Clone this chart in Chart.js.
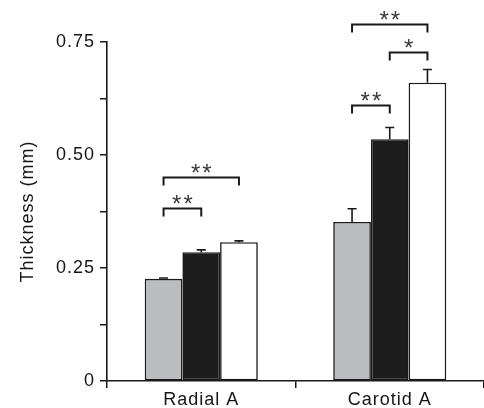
<!DOCTYPE html>
<html>
<head>
<meta charset="utf-8">
<script src="https://cdn.jsdelivr.net/npm/chart.js@4/dist/chart.umd.min.js"></script>
<style>
html,body{margin:0;padding:0;background:#fff;}
canvas{display:block;}
</style>
</head>
<body>
<canvas id="c" width="484" height="408"></canvas>
<script>
// ---- data ----
const categories = ['Radial A', 'Carotid A'];
const seriesNames = ['Group 1', 'Group 2', 'Group 3'];
const grayValues  = [0.226, 0.352];
const blackValues = [0.285, 0.535];
const whiteValues = [0.307, 0.660];
const grayErrors  = [0.002, 0.029];
const blackErrors = [0.005, 0.026];
const whiteErrors = [0.003, 0.029];
const yTickLabels = ['0', '0.25', '0.50', '0.75'];
// significance brackets: category index, from series, to series, bracket level (mm), label
const bracketCategory = [0, 0, 1, 1, 1];
const bracketFrom     = [0, 0, 0, 1, 0];
const bracketTo       = [1, 2, 1, 2, 2];
const bracketLevel    = [0.383, 0.451, 0.611, 0.728, 0.790];
const bracketLabel    = ['**', '**', '**', '*', '**'];

const values = [grayValues, blackValues, whiteValues];
const errors = [grayErrors, blackErrors, whiteErrors];
const fills = ['#bbbcbf', '#1c1c1c', '#ffffff'];

const FONT = '"Liberation Sans", Arial, Helvetica, sans-serif';
const TEXT = '#151515';

const spacingPlugin = {
  id: 'spacing',
  beforeDraw(chart) { chart.ctx.letterSpacing = '1px'; }
};

const annotPlugin = {
  id: 'annot',
  afterDraw(chart) {
    const ctx = chart.ctx;
    const y = chart.scales.y;
    ctx.save();
    ctx.strokeStyle = '#1a1a1a';
    ctx.lineWidth = 1.6;
    // error bars (upper half only)
    values.forEach((vals, di) => {
      const meta = chart.getDatasetMeta(di);
      vals.forEach((v, i) => {
        const bar = meta.data[i];
        const top = y.getPixelForValue(v + errors[di][i]);
        const base = y.getPixelForValue(v);
        ctx.beginPath();
        ctx.moveTo(bar.x, base);
        ctx.lineTo(bar.x, top);
        ctx.moveTo(bar.x - 4.5, top);
        ctx.lineTo(bar.x + 4.5, top);
        ctx.stroke();
      });
    });
    // brackets
    ctx.lineWidth = 2;
    ctx.letterSpacing = '2px';
    ctx.font = '24px ' + FONT;
    ctx.fillStyle = '#3a3a3a';
    ctx.textAlign = 'center';
    ctx.textBaseline = 'alphabetic';
    bracketLevel.forEach((lvl, k) => {
      const c = bracketCategory[k];
      const x1 = chart.getDatasetMeta(bracketFrom[k]).data[c].x;
      const x2 = chart.getDatasetMeta(bracketTo[k]).data[c].x;
      const py = Math.round(y.getPixelForValue(lvl)) + 0.5;
      ctx.beginPath();
      ctx.moveTo(x1, py + 8);
      ctx.lineTo(x1, py);
      ctx.lineTo(x2, py);
      ctx.lineTo(x2, py + 8);
      ctx.stroke();
      ctx.fillText(bracketLabel[k], (x1 + x2) / 2 + 1, py + 3);
    });
    ctx.restore();
  }
};

new Chart(document.getElementById('c'), {
  type: 'bar',
  data: {
    labels: categories,
    datasets: values.map((vals, i) => ({
      label: seriesNames[i],
      data: vals,
      backgroundColor: fills[i],
      borderColor: '#1a1a1a',
      borderWidth: 1.6,
      borderSkipped: false,
      barPercentage: 1.0,
      categoryPercentage: 0.6
    }))
  },
  options: {
    responsive: false,
    animation: false,
    devicePixelRatio: 1,
    layout: { padding: { top: 42, left: 0, right: 0, bottom: 0 } },
    plugins: { legend: { display: false }, tooltip: { enabled: false } },
    scales: {
      x: {
        grid: { display: true, drawOnChartArea: false, drawTicks: true, tickLength: 7, color: '#1a1a1a', lineWidth: 1.5, offset: true },
        border: { display: true, color: '#1a1a1a', width: 1.6 },
        ticks: { color: TEXT, font: { family: FONT, size: 18 }, padding: 1, maxRotation: 0 },
        afterFit(s) { s.height = 27; }
      },
      y: {
        min: 0, max: 0.75,
        grid: { display: true, drawOnChartArea: false, drawTicks: true, tickLength: 7, color: '#1a1a1a', lineWidth: 1.5 },
        border: { display: true, color: '#1a1a1a', width: 1.6 },
        ticks: {
          stepSize: 0.125,
          color: TEXT,
          font: { family: FONT, size: 18 },
          padding: 5,
          callback(v) {
            const idx = Math.round(v / 0.25);
            return Math.abs(v - idx * 0.25) < 1e-6 ? yTickLabels[idx] : '';
          }
        },
        title: { display: true, text: 'Thickness (mm)', color: TEXT, font: { family: FONT, size: 18 }, padding: { top: 17, bottom: 0 } },
        afterFit(s) { s.width = 107; }
      }
    }
  },
  plugins: [spacingPlugin, annotPlugin]
});
</script>
</body>
</html>
